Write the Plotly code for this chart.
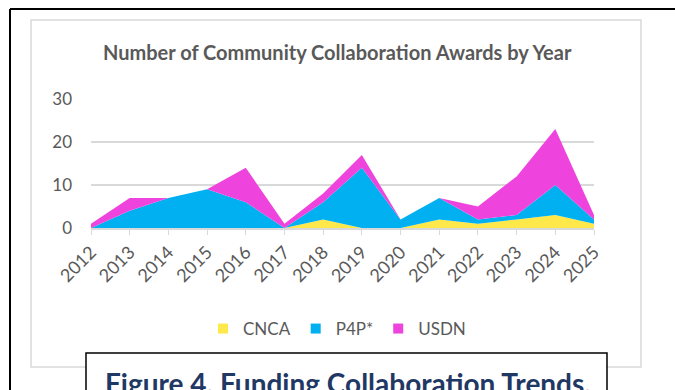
import plotly.graph_objects as go

years = [2012, 2013, 2014, 2015, 2016, 2017, 2018, 2019, 2020, 2021, 2022, 2023, 2024, 2025]
cnca = [0, 0, 0, 0, 0, 0, 2, 0, 0, 2, 1, 2, 3, 1]
p4p = [0, 4, 7, 9, 6, 0, 4, 14, 2, 5, 1, 1, 7, 1]
usdn = [1, 3, 0, 0, 8, 1, 2, 3, 0, 0, 3, 9, 13, 1]
series_names = ["CNCA", "P4P*", "USDN"]
series_colors = ["#FFE84A", "#00B0F0", "#EE44DD"]
y_ticks = [0, 10, 20, 30]

W, H = 675, 390
L, R, T, B = 91, 594, 99, 228  # plot-area pixel box

FONT = "Lato"
GRAY = "#595959"


def px(x):
    return (x - L) / (R - L)


def py(y):
    return (B - y) / (B - T)


fig = go.Figure()
for name, vals, col in zip(series_names, [cnca, p4p, usdn], series_colors):
    fig.add_trace(go.Scatter(
        x=years, y=vals, name=name, stackgroup="one", mode="none",
        fillcolor=col, line=dict(width=0), hoverinfo="x+y+name", showlegend=False,
    ))
# legend entries with square swatches
for name, col in zip(series_names, series_colors):
    fig.add_trace(go.Scatter(
        x=[None], y=[None], name=name, mode="markers",
        marker=dict(symbol="square", size=10, color=col), showlegend=True,
    ))

shapes = [
    dict(type="rect", xref="paper", yref="paper", x0=px(31), x1=px(641), y0=py(20), y1=py(367),
         line=dict(color="#D9D9D9", width=1.5), fillcolor="rgba(0,0,0,0)", layer="below"),
    dict(type="line", xref="paper", yref="paper", x0=px(10), x1=px(700), y0=py(9), y1=py(9),
         line=dict(color="black", width=2)),
    dict(type="line", xref="paper", yref="paper", x0=px(10), x1=px(10), y0=py(9), y1=py(420),
         line=dict(color="black", width=2)),
    dict(type="rect", xref="paper", yref="paper", x0=px(86), x1=px(607), y0=py(353), y1=py(420),
         line=dict(color="black", width=1.5), fillcolor="white", layer="above"),
]

annotations = [
    dict(text="<b>Number of Community Collaboration Awards by Year</b>", xref="paper", yref="paper",
         x=px(337), y=py(52), xanchor="center", yanchor="middle", showarrow=False,
         font=dict(family=FONT, size=20, color=GRAY)),
    dict(text="<b>Figure 4. Funding Collaboration Trends.</b>", xref="paper", yref="paper",
         x=px(348), y=py(364), xanchor="center", yanchor="top", showarrow=False,
         font=dict(family=FONT, size=28, color="#1F3864")),
]

fig.update_layout(
    width=W, height=H,
    margin=dict(l=L, r=W - R, t=T, b=H - B, pad=0),
    paper_bgcolor="white", plot_bgcolor="white",
    font=dict(family=FONT, color=GRAY),
    showlegend=True,
    legend=dict(orientation="h", x=px(337), xanchor="center", y=py(329), yanchor="middle",
                font=dict(family=FONT, size=17, color=GRAY), traceorder="normal",
                itemwidth=30, bgcolor="rgba(0,0,0,0)"),
    shapes=shapes,
    annotations=annotations,
    xaxis=dict(range=[years[0], years[-1]], tickmode="array", tickvals=years,
               ticktext=[str(y) for y in years], tickangle=-45,
               showgrid=False, zeroline=False, showline=True, linecolor="#D9D9D9", linewidth=1.5,
               ticks="outside", ticklen=5, tickcolor="#D9D9D9", tickwidth=1,
               tickfont=dict(family=FONT, size=18, color=GRAY), fixedrange=True),
    yaxis=dict(range=[0, 30], tickmode="array", tickvals=y_ticks,
               showgrid=True, gridcolor="#D9D9D9", gridwidth=1.5, zeroline=False,
               showline=False, ticks="", ticklabelstandoff=18,
               tickfont=dict(family=FONT, size=17, color=GRAY), fixedrange=True),
)

fig.write_html("out.html")
